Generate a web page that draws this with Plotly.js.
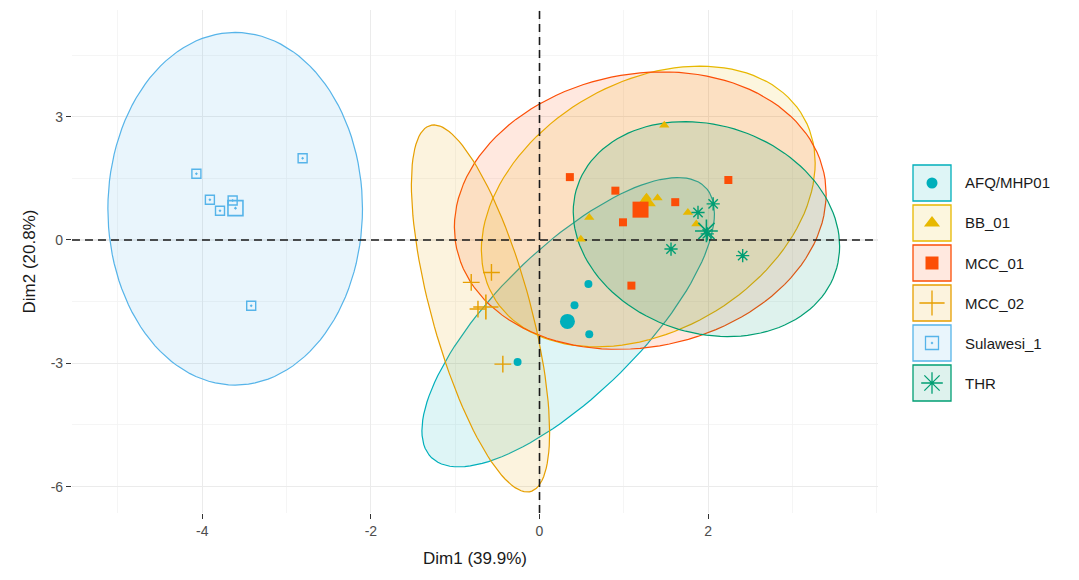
<!DOCTYPE html>
<html>
<head>
<meta charset="utf-8">
<script src="https://cdn.plot.ly/plotly-3.0.1.min.js"></script>
<style>html,body{margin:0;padding:0;background:#fff;}#chart{width:1079px;height:580px;}</style>
</head>
<body>
<div id="chart"></div>
<script>
// ---- data ----
const groups = ['AFQ/MHP01', 'BB_01', 'MCC_01', 'MCC_02', 'Sulawesi_1', 'THR'];
const colors = ['#00AFBB', '#E7B800', '#FC4E07', '#E69F00', '#56B4E9', '#009E73'];
const symbols = ['circle', 'triangle-up', 'square', 'cross-thin-open', 'square-open-dot', 'asterisk-open'];

const afqX = [0.58, 0.415, 0.59, -0.26];
const afqY = [-1.07, -1.59, -2.29, -2.97];
const bbX = [0.59, 0.49, 1.27, 1.40, 1.76, 1.86, 1.48];
const bbY = [0.55, 0.02, 1.04, 1.02, 0.67, 0.39, 2.79];
const mcc1X = [0.36, 0.90, 1.61, 0.99, 2.24, 1.09];
const mcc1Y = [1.53, 1.20, 0.92, 0.43, 1.46, -1.11];
const mcc2X = [-0.57, -0.81, -0.73, -0.435];
const mcc2Y = [-0.79, -1.03, -1.68, -3.02];
const sulX = [-4.07, -3.91, -3.79, -3.64, -2.81, -3.42];
const sulY = [1.61, 0.98, 0.71, 0.96, 1.99, -1.60];
const thrX = [2.06, 1.88, 1.56, 2.41, 1.99];
const thrY = [0.88, 0.67, -0.22, -0.38, 0.15];

// concentration ellipses: centre, half-ranges along x / y, correlation
const ellCx = [0.34, 1.29, 1.195, -0.70, -3.61, 1.98];
const ellCy = [-2.00, 0.815, 0.715, -1.665, 0.76, 0.265];
const ellSx = [1.735, 1.98, 2.205, 0.82, 1.51, 1.58];
const ellSy = [3.52, 3.415, 3.375, 4.465, 4.29, 2.615];
const ellRho = [0.75, 0.31, 0.12, -0.675, 0.0, -0.16];

const xTickVals = [-4, -2, 0, 2];
const xTickText = ['-4', '-2', '0', '2'];
const yTickVals = [-6, -3, 0, 3];
const yTickText = ['-6', '-3', '0', '3'];
const xRange = [-5.546, 4.015];
const yRange = [-6.642, 5.596];

const xTitle = 'Dim1 (39.9%)';
const yTitle = 'Dim2 (20.8%)';
const legendTitle = 'Groups';

const groupX = [afqX, bbX, mcc1X, mcc2X, sulX, thrX];
const groupY = [afqY, bbY, mcc1Y, mcc2Y, sulY, thrY];

// ---- helpers ----
function rgba(hex, a) {
  const r = parseInt(hex.slice(1, 3), 16), g = parseInt(hex.slice(3, 5), 16), b = parseInt(hex.slice(5, 7), 16);
  return 'rgba(' + r + ',' + g + ',' + b + ',' + a + ')';
}
function ellipse(cx, cy, sx, sy, rho) {
  const xs = [], ys = [], n = 120, k = Math.sqrt(1 - rho * rho);
  for (let i = 0; i <= n; i++) {
    const t = 2 * Math.PI * i / n;
    xs.push(cx + sx * Math.cos(t));
    ys.push(cy + sy * (rho * Math.cos(t) + k * Math.sin(t)));
  }
  return {xs, ys};
}
const mean = a => a.reduce((s, v) => s + v, 0) / a.length;
const isLine = s => s.indexOf('open') >= 0;

const traces = [];
// ellipses
groups.forEach((g, i) => {
  const e = ellipse(ellCx[i], ellCy[i], ellSx[i], ellSy[i], ellRho[i]);
  traces.push({
    type: 'scatter', mode: 'lines', x: e.xs, y: e.ys, fill: 'toself',
    fillcolor: rgba(colors[i], 0.13), line: {color: colors[i], width: 1.2},
    hoverinfo: 'skip', showlegend: false, xaxis: 'x', yaxis: 'y'
  });
});
// dashed reference lines at 0
const dashLine = {color: '#1a1a1a', width: 1.6, dash: '8px,5px'};
traces.push({type: 'scatter', mode: 'lines', x: [0, 0], y: yRange, line: dashLine,
             hoverinfo: 'skip', showlegend: false, xaxis: 'x', yaxis: 'y'});
traces.push({type: 'scatter', mode: 'lines', x: xRange, y: [0, 0], line: dashLine,
             hoverinfo: 'skip', showlegend: false, xaxis: 'x', yaxis: 'y'});
// individual points
const ptSize = [8, 9, 8, 12, 9, 11];
const meanSize = [15, 17, 16, 18, 15, 19];
groups.forEach((g, i) => {
  const open = isLine(symbols[i]);
  traces.push({
    type: 'scatter', mode: 'markers', x: groupX[i], y: groupY[i], name: g,
    marker: {symbol: symbols[i], size: ptSize[i], color: colors[i],
             line: {color: colors[i], width: open ? 1.4 : 0}},
    showlegend: false, xaxis: 'x', yaxis: 'y'
  });
});
// group means
groups.forEach((g, i) => {
  const open = isLine(symbols[i]);
  traces.push({
    type: 'scatter', mode: 'markers', x: [mean(groupX[i])], y: [mean(groupY[i])], name: g + ' mean',
    marker: {symbol: symbols[i], size: meanSize[i], color: colors[i],
             line: {color: colors[i], width: open ? 1.6 : 0}},
    showlegend: false, xaxis: 'x', yaxis: 'y'
  });
});

// ---- legend (drawn on its own small axes) ----
const legSize = [11, 14, 13, 18, 13, 18];
const shapes = [];
const annotations = [];
groups.forEach((g, i) => {
  const open = isLine(symbols[i]);
  traces.push({
    type: 'scatter', mode: 'markers', x: [27], y: [i + 0.5], name: g,
    marker: {symbol: symbols[i], size: legSize[i], color: colors[i],
             line: {color: colors[i], width: open ? 1.3 : 0}},
    showlegend: false, hoverinfo: 'skip', xaxis: 'x2', yaxis: 'y2', cliponaxis: false
  });
  shapes.push({type: 'rect', xref: 'x2', yref: 'y2', x0: 8, x1: 46, y0: i + 0.05, y1: i + 0.95,
               fillcolor: rgba(colors[i], 0.13), line: {color: colors[i], width: 1.3}, layer: 'below'});
  annotations.push({xref: 'x2', yref: 'y2', x: 58, y: i + 0.5, text: g, showarrow: false,
                    xanchor: 'left', yanchor: 'middle', font: {size: 15, color: '#1a1a1a'}});
});
annotations.push({xref: 'x2', yref: 'y2', x: 6, y: -0.15, text: legendTitle, showarrow: false,
                  xanchor: 'left', yanchor: 'middle', font: {size: 17, color: '#1a1a1a'}});

const layout = {
  width: 1079, height: 580,
  margin: {l: 0, r: 0, t: 0, b: 0},
  paper_bgcolor: '#ffffff', plot_bgcolor: 'rgba(0,0,0,0)',
  font: {family: 'Liberation Sans, Arial, sans-serif', color: '#4D4D4D'},
  showlegend: false,
  xaxis: {
    domain: [0.0667, 0.8137], range: xRange, autorange: false,
    tickmode: 'array', tickvals: xTickVals, ticktext: xTickText,
    ticks: 'outside', ticklen: 5, tickcolor: '#333333', tickwidth: 1,
    tickfont: {size: 14, color: '#4D4D4D'},
    showgrid: true, gridcolor: '#EBEBEB', gridwidth: 1.1, zeroline: false, showline: false,
    minor: {dtick: 1, tick0: 0, showgrid: true, gridcolor: '#F3F3F3', gridwidth: 0.8, ticks: ''},
    title: {text: xTitle, font: {size: 17, color: '#1a1a1a'}, standoff: 14},
    automargin: false
  },
  yaxis: {
    domain: [0.1155, 0.9828], range: yRange, autorange: false,
    tickmode: 'array', tickvals: yTickVals, ticktext: yTickText,
    ticks: 'outside', ticklen: 5, tickcolor: '#333333', tickwidth: 1,
    tickfont: {size: 14, color: '#4D4D4D'},
    showgrid: true, gridcolor: '#EBEBEB', gridwidth: 1.1, zeroline: false, showline: false,
    minor: {dtick: 1.5, tick0: 0, showgrid: true, gridcolor: '#F3F3F3', gridwidth: 0.8, ticks: ''},
    title: {text: yTitle, font: {size: 17, color: '#1a1a1a'}, standoff: 10},
    automargin: false
  },
  xaxis2: {domain: [905 / 1079, 1], range: [0, 174], autorange: false, visible: false, fixedrange: true},
  yaxis2: {domain: [(580 - 403) / 580, (580 - 163) / 580], range: [6, 0], autorange: false,
           visible: false, fixedrange: true},
  shapes: shapes,
  annotations: annotations
};

Plotly.newPlot('chart', traces, layout, {displayModeBar: false, staticPlot: true});
</script>
</body>
</html>
